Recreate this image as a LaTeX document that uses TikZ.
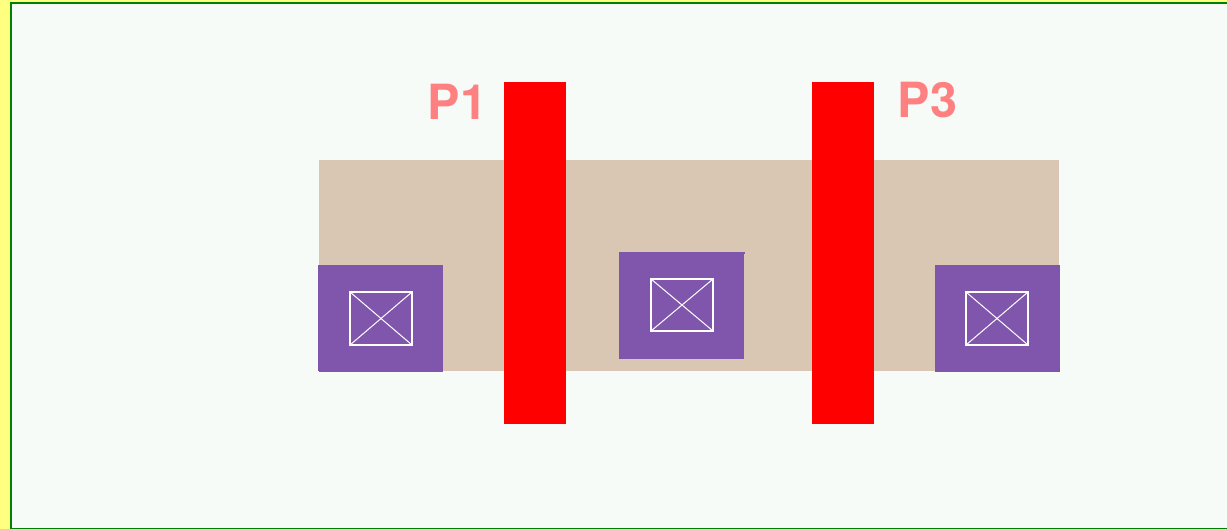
\documentclass[tikz,border=0pt]{standalone}
\usepackage{fontspec}
\setmainfont{TeX Gyre Heros}
\definecolor{pagebg}{HTML}{F6FBF7}
\definecolor{edgeyellow}{HTML}{FFFF80}
\definecolor{edgegreen}{HTML}{008000}
\definecolor{diffusion}{HTML}{DAC7B3}
\definecolor{metalpad}{HTML}{8056AC}
\definecolor{polyred}{HTML}{FF0000}
\definecolor{labelpink}{HTML}{FF8080}
\tikzset{
  viafill/.style={fill=metalpad,draw=none},
  cutbox/.style={draw=white,line width=2pt,fill=none},
  cutdiag/.style={draw=white,line width=1pt},
  polybar/.style={fill=polyred,draw=none},
  plabel/.style={text=labelpink,font=\fontsize{48.5}{48.5}\selectfont\bfseries,inner sep=0pt,anchor=base west}
}
\begin{document}
\begin{tikzpicture}[x=1pt,y=-1pt]
\useasboundingbox (0,0) rectangle (1227,529);
\fill[edgeyellow] (0,0) rectangle (1227,529);
\fill[edgegreen] (10,2) rectangle (1227,529);
\fill[pagebg] (12,4) rectangle (1227,528);
\fill[diffusion] (319,160) rectangle (1059,371);
% contact pads
\fill[viafill] (318,265) rectangle (443,371);
\fill[viafill] (319,371) rectangle (443,372);
\fill[viafill] (619,252) rectangle (744,359);
\fill[viafill] (744,252) rectangle (745,254);
\fill[viafill] (935,265) rectangle (1060,372);
% contact cuts
\foreach \xa/\ya/\xb/\yb in {350/292/412/345, 651/279/713/331, 966/292/1028/345}{
  \draw[cutbox] (\xa,\ya) rectangle (\xb,\yb);
  \draw[cutdiag] (\xa,\ya) -- (\xb,\yb);
  \draw[cutdiag] (\xa,\yb) -- (\xb,\ya);
}
% poly gates
\fill[polybar] (504,82) rectangle (566,424);
\fill[polybar] (812,82) rectangle (874,424);
\node[plabel] (p1) at (427.5,120) {P1};
\node[plabel] (p3) at (897.5,117.5) {P3};
\end{tikzpicture}
\end{document}
